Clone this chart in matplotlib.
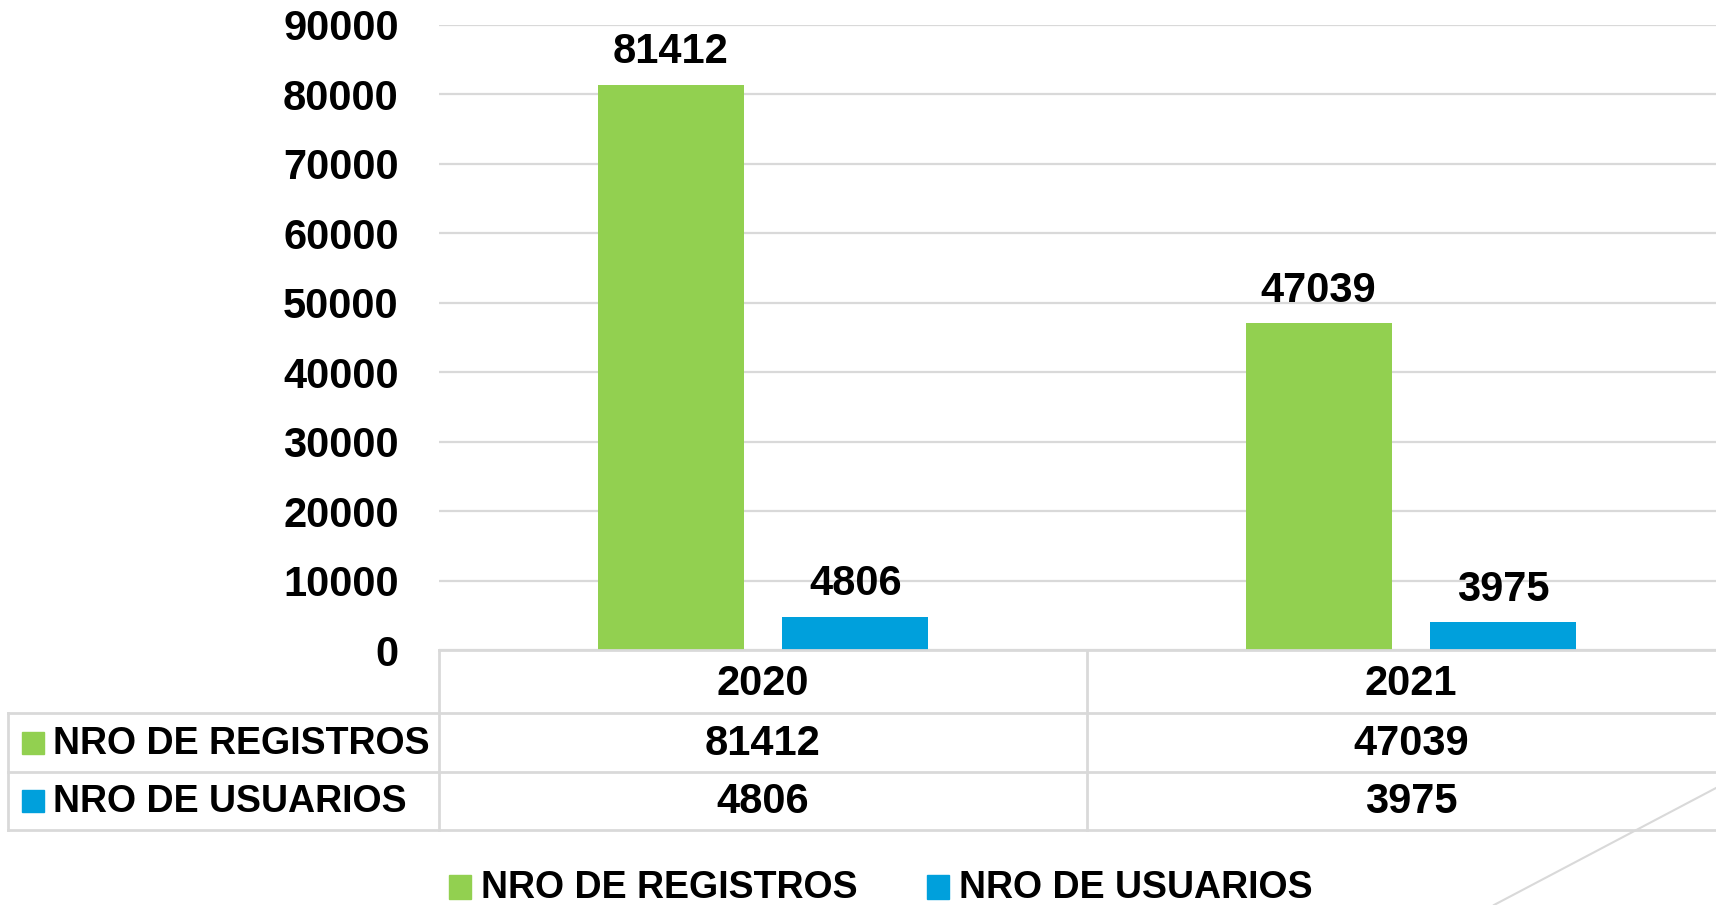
import matplotlib.pyplot as plt
from matplotlib.patches import Rectangle

plt.rcParams['font.family'] = ['Liberation Sans', 'DejaVu Sans']
plt.rcParams['font.weight'] = 'bold'

years = ["2020", "2021"]
series_names = ["NRO DE REGISTROS", "NRO DE USUARIOS"]
registros = [81412, 47039]
usuarios = [4806, 3975]
yticks = [0, 10000, 20000, 30000, 40000, 50000, 60000, 70000, 80000, 90000]

GREEN = "#92D050"
BLUE = "#00A0DC"
GRID = "#D9D9D9"

W, H = 1716, 905
fig = plt.figure(figsize=(W / 100, H / 100), dpi=100)

# plot area in pixels (y measured from the top)
px_left, px_right = 439, 1735
py_top, py_zero = 25, 650
ax = fig.add_axes([px_left / W, (H - py_zero) / H,
                   (px_right - px_left) / W, (py_zero - py_top) / H])

x = list(range(len(years)))
bw = 0.225
off = 0.1425
series = [registros, usuarios]
colors = [GREEN, BLUE]
for k, (vals, col) in enumerate(zip(series, colors)):
    xs = [i + (-off if k == 0 else off) for i in x]
    bars = ax.bar(xs, vals, width=bw, color=col, zorder=3)
    for b, v in zip(bars, vals):
        ax.annotate(str(v), (b.get_x() + b.get_width() / 2, v),
                    xytext=(0, 15.5), textcoords="offset points",
                    ha="center", va="baseline", fontsize=30, fontweight="bold")

ax.set_xlim(-0.5, len(years) - 0.5)
ax.set_ylim(0, 90000)
ax.set_yticks(yticks)
ax.set_yticklabels([str(t) for t in yticks], fontsize=30, fontweight="bold")
ax.tick_params(axis="y", length=0, pad=29)
ax.set_xticks([])
ax.grid(axis="y", color=GRID, linewidth=1.6, zorder=0)
for s in ax.spines.values():
    s.set_visible(False)

# overlay in pixel coordinates for the data table and legend
ov = fig.add_axes([0, 0, 1, 1])
ov.set_xlim(0, W)
ov.set_ylim(H, 0)
ov.axis("off")

tbl_left = 8
rows_y = [650, 713, 772, 830]
cat_w = (px_right - px_left) / len(years)
col_x = [px_left + i * cat_w for i in range(len(years) + 1)]

lw = 2
ov.plot([px_left, px_right], [rows_y[0], rows_y[0]], color=GRID, lw=lw)
for yy in rows_y[1:]:
    ov.plot([tbl_left, px_right], [yy, yy], color=GRID, lw=lw)
ov.plot([tbl_left, tbl_left], [rows_y[1], rows_y[3]], color=GRID, lw=lw)
for xx in col_x:
    ov.plot([xx, xx], [rows_y[0], rows_y[3]], color=GRID, lw=lw)

for i, yr in enumerate(years):
    cx = px_left + (i + 0.5) * cat_w
    ov.text(cx, (rows_y[0] + rows_y[1]) / 2 + 2, yr, ha="center", va="center",
            fontsize=30, fontweight="bold")
    for r, vals in enumerate(series):
        ov.text(cx, (rows_y[r + 1] + rows_y[r + 2]) / 2 + 1, str(vals[i]),
                ha="center", va="center", fontsize=30, fontweight="bold")

for r, (name, col) in enumerate(zip(series_names, colors)):
    cy = (rows_y[r + 1] + rows_y[r + 2]) / 2
    ov.add_patch(Rectangle((22, cy - 11), 22, 22, color=col))
    ov.text(53, cy + 1, name, ha="left", va="center", fontsize=27, fontweight="bold")

# legend at bottom
leg_y = 887
leg_x = [449, 927]
for name, col, lx in zip(series_names, colors, leg_x):
    ov.add_patch(Rectangle((lx, leg_y - 12), 22, 24, color=col))
    ov.text(lx + 32, leg_y + 1, name, ha="left", va="center", fontsize=27,
            fontweight="bold")

# decorative diagonal stroke in the corner
ov.plot([1494, 1716], [905, 788], color=GRID, lw=1.5)

fig.savefig("out.png", dpi=100)
